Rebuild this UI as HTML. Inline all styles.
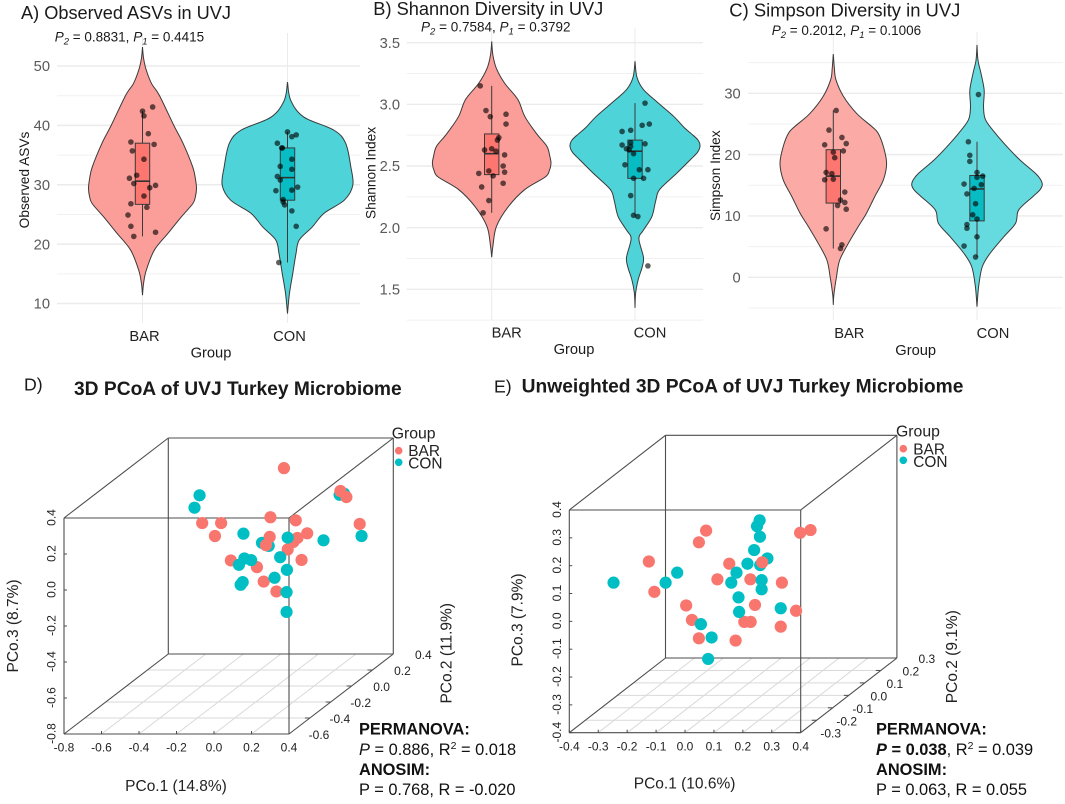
<!DOCTYPE html>
<html lang="en">
<head>
<meta charset="utf-8">
<title>UVJ Turkey Microbiome Diversity</title>
<style>
html,body{margin:0;padding:0;background:#fff;width:1065px;height:804px;overflow:hidden}
svg{display:block;font-family:"Liberation Sans",Arial,sans-serif}
</style>
</head>
<body>
<svg id="fig" width="1065" height="804" viewBox="0 0 1065 804" xmlns="http://www.w3.org/2000/svg">
  <g id="layer"></g>

  <text x="21" y="19" font-size="18.8" fill="#1a1a1a" textLength="210" lengthAdjust="spacingAndGlyphs">A) Observed ASVs in UVJ</text>
  <text x="54.7" y="41.7" font-size="13.5" fill="#1a1a1a"><tspan font-style="italic">P</tspan><tspan font-style="italic" font-size="9.5" dy="3">2</tspan><tspan dy="-3"> = 0.8831, </tspan><tspan font-style="italic">P</tspan><tspan font-style="italic" font-size="9.5" dy="3">1</tspan><tspan dy="-3"> = 0.4415</tspan></text>
  <text transform="translate(29,180) rotate(-90)" text-anchor="middle" font-size="13.7" fill="#1a1a1a">Observed ASVs</text>
  <text x="211" y="357.7" text-anchor="middle" font-size="14.7" fill="#1a1a1a">Group</text>

  <text x="373.3" y="15" font-size="18.8" fill="#1a1a1a" textLength="230" lengthAdjust="spacingAndGlyphs">B) Shannon Diversity in UVJ</text>
  <text x="421" y="31.7" font-size="13.5" fill="#1a1a1a"><tspan font-style="italic">P</tspan><tspan font-style="italic" font-size="9.5" dy="3">2</tspan><tspan dy="-3"> = 0.7584, </tspan><tspan font-style="italic">P</tspan><tspan font-style="italic" font-size="9.5" dy="3">1</tspan><tspan dy="-3"> = 0.3792</tspan></text>
  <text transform="translate(375.7,173) rotate(-90)" text-anchor="middle" font-size="13.7" fill="#1a1a1a">Shannon Index</text>
  <text x="574" y="354" text-anchor="middle" font-size="14.7" fill="#1a1a1a">Group</text>

  <text x="729.3" y="16.7" font-size="18.8" fill="#1a1a1a" textLength="231" lengthAdjust="spacingAndGlyphs">C) Simpson Diversity in UVJ</text>
  <text x="771.7" y="35" font-size="13.5" fill="#1a1a1a"><tspan font-style="italic">P</tspan><tspan font-style="italic" font-size="9.5" dy="3">2</tspan><tspan dy="-3"> = 0.2012, </tspan><tspan font-style="italic">P</tspan><tspan font-style="italic" font-size="9.5" dy="3">1</tspan><tspan dy="-3"> = 0.1006</tspan></text>
  <text transform="translate(720,175.7) rotate(-90)" text-anchor="middle" font-size="13.7" fill="#1a1a1a">Simpson Index</text>
  <text x="915.7" y="355" text-anchor="middle" font-size="14.7" fill="#1a1a1a">Group</text>

  <text x="24" y="390.7" font-size="17.7" fill="#1a1a1a">D)</text>
  <text x="74" y="395" font-size="19" font-weight="bold" fill="#1a1a1a" textLength="327.7" lengthAdjust="spacingAndGlyphs">3D PCoA of UVJ Turkey Microbiome</text>
  <text x="176" y="791" text-anchor="middle" font-size="15.5" fill="#222">PCo.1 (14.8%)</text>
  <text transform="translate(18,626) rotate(-90)" text-anchor="middle" font-size="15.5" fill="#222">PCo.3 (8.7%)</text>
  <text transform="translate(451.7,653.3) rotate(-90)" text-anchor="middle" font-size="15.5" fill="#222">PCo.2 (11.9%)</text>
  <text x="391.7" y="438.3" font-size="15.8" fill="#222">Group</text>
  <circle cx="398.7" cy="450.7" r="3.8" fill="#F8766D"/>
  <circle cx="398.7" cy="462.3" r="3.8" fill="#00BFC4"/>
  <text x="408.3" y="456" font-size="15.4" fill="#222">BAR</text>
  <text x="408.3" y="468.7" font-size="15.4" fill="#222">CON</text>
  <g font-size="16.4" fill="#111">
    <text x="359" y="734.5" font-weight="bold">PERMANOVA:</text>
    <text x="359" y="755"><tspan font-style="italic">P</tspan> = 0.886, R<tspan font-size="10.5" dy="-6">2</tspan><tspan dy="6"> = 0.018</tspan></text>
    <text x="359" y="775" font-weight="bold">ANOSIM:</text>
    <text x="359" y="795">P = 0.768, R = -0.020</text>
  </g>

  <text x="494" y="392.7" font-size="17.7" fill="#1a1a1a">E)</text>
  <text x="521.7" y="392.7" font-size="19" font-weight="bold" fill="#1a1a1a" textLength="441.7" lengthAdjust="spacingAndGlyphs">Unweighted 3D PCoA of UVJ Turkey Microbiome</text>
  <text x="684.6" y="788.3" text-anchor="middle" font-size="15.5" fill="#222">PCo.1 (10.6%)</text>
  <text transform="translate(522.3,620) rotate(-90)" text-anchor="middle" font-size="15.5" fill="#222">PCo.3 (7.9%)</text>
  <text transform="translate(956.8,656.7) rotate(-90)" text-anchor="middle" font-size="15.5" fill="#222">PCo.2 (9.1%)</text>
  <text x="896" y="436.7" font-size="15.8" fill="#222">Group</text>
  <circle cx="903.3" cy="448.7" r="3.8" fill="#F8766D"/>
  <circle cx="903.3" cy="460.3" r="3.8" fill="#00BFC4"/>
  <text x="913.3" y="454.7" font-size="15.4" fill="#222">BAR</text>
  <text x="913.3" y="467" font-size="15.4" fill="#222">CON</text>
  <g font-size="16.4" fill="#111">
    <text x="876" y="734.5" font-weight="bold">PERMANOVA:</text>
    <text x="876" y="755"><tspan font-style="italic" font-weight="bold">P</tspan><tspan font-weight="bold"> = 0.038</tspan>, R<tspan font-size="10.5" dy="-6">2</tspan><tspan dy="6"> = 0.039</tspan></text>
    <text x="876" y="775" font-weight="bold">ANOSIM:</text>
    <text x="876" y="795">P = 0.063, R = 0.055</text>
  </g>
</svg>

<script>
// ---------- shared categories ----------
const groups = ['BAR', 'CON'];

// ---------- Panel A: Observed ASVs ----------
const aTicks = [10, 20, 30, 40, 50];
const aMinorTicks = [15, 25, 35, 45];
const aBarViolinValues = [53.2, 51.3, 49.3, 47, 45.1, 40, 37, 33, 31, 29.4, 28, 26.8, 24.6, 21.8, 19, 15.6, 13.4, 11.4];
const aBarViolinDensity = [0, .02, .07, .17, .31, .58, .75, .93, .98, 1, .98, .93, .72, .47, .22, .07, .02, 0];
const aConViolinValues = [47.3, 44.2, 41.4, 39.2, 37, 33, 29.9, 27.4, 25.2, 22.9, 20.7, 18.4, 15, 11.7, 8.3];
const aConViolinDensity = [0, .05, .25, .71, .89, .97, 1, .87, .56, .38, .18, .13, .08, .03, 0];
const aBarBox = [21.3, 26.7, 30.6, 37, 42.4];
const aConBox = [16.9, 27.4, 31.2, 36.2, 38.9];
const aBarPoints = [43.1, 42.4, 41.6, 38.6, 37.2, 36.8, 35.7, 34.3, 31.6, 31.1, 30.2, 29.9, 29.5, 28.1, 26.8, 26.2, 24.9, 23, 22, 21.3];
const aBarJitter = [.07, 0, .01, .04, -.08, .08, -.07, .01, -.04, -.09, -.06, .09, .05, .01, -.08, .03, -.1, -.08, .09, -.06];
const aConPoints = [38.9, 38.4, 38.1, 37, 36.2, 36.2, 34.3, 33.1, 32.6, 31.4, 30.8, 29.6, 29.1, 29, 27.5, 27.1, 26.6, 25.6, 23, 16.9];
const aConJitter = [0, .06, .03, -.07, -.04, -.035, .03, -.05, .03, -.07, -.05, .07, .03, -.08, -.03, -.03, -.02, .03, .06, -.06];

// ---------- Panel B: Shannon ----------
const bTicks = [1.5, 2, 2.5, 3, 3.5];
const bMinorTicks = [1.25, 1.75, 2.25, 2.75, 3.25];
const bBarViolinValues = [3.51, 3.4, 3.29, 3.17, 3.04, 2.9, 2.76, 2.66, 2.58, 2.52, 2.46, 2.41, 2.31, 2.17, 2.01, 1.85, 1.76];
const bBarViolinDensity = [0, .02, .08, .22, .44, .56, .76, .93, .98, 1, .97, .9, .56, .28, .08, .02, 0];
const bConViolinValues = [3.35, 3.22, 3.12, 3.01, 2.9, 2.81, 2.76, 2.71, 2.66, 2.61, 2.55, 2.44, 2.31, 2.22, 2.09, 1.98, 1.91, 1.76, 1.68, 1.58, 1.47, 1.35];
const bConViolinDensity = [0, .03, .13, .36, .6, .76, .87, .97, 1, .96, .85, .64, .38, .32, .26, .13, .06, .13, .11, .05, .01, 0];
const bBarBox = [2.12, 2.43, 2.6, 2.76, 3.15];
const bConBox = [2.1, 2.4, 2.62, 2.71, 3.01];
const bBarPoints = [3.15, 2.95, 2.9, 2.92, 2.84, 2.73, 2.71, 2.64, 2.63, 2.62, 2.59, 2.5, 2.45, 2.46, 2.44, 2.42, 2.36, 2.33, 2.22, 2.12];
const bBarJitter = [-.08, -.04, -.01, .1, .1, .05, .04, 0, -.05, .03, .09, .08, .09, -.02, -.09, .01, .08, -.07, -.02, -.06];
const bConPoints = [3.01, 2.84, 2.83, 2.79, 2.78, 2.69, 2.67, 2.68, 2.66, 2.64, 2.63, 2.6, 2.51, 2.47, 2.47, 2.4, 2.4, 2.26, 2.1, 2.09, 1.69];
const bConJitter = [.07, .1, .05, -.03, -.09, -.03, -.09, .07, -.03, -.06, -.04, -.01, -.07, .03, .09, -.01, .06, -.03, -.01, .02, .09];

// ---------- Panel C: Simpson ----------
const cTicks = [0, 10, 20, 30];
const cMinorTicks = [-5, 5, 15, 25, 35];
const cBarViolinValues = [36.4, 34.1, 32.2, 29.5, 26.7, 24.6, 23.5, 21.3, 18.6, 15.9, 13.2, 10.4, 8.3, 5.5, 2.8, .1, -2.9, -4.5];
const cBarViolinDensity = [0, .02, .05, .19, .44, .72, .84, .94, 1, .94, .78, .62, .47, .28, .12, .06, .01, 0];
const cConViolinValues = [37.9, 35.4, 33.3, 30.5, 27.8, 25.7, 23.5, 21.3, 19.1, 17, 16, 15.1, 14.2, 13.2, 11, 8.8, 6.6, 3.9, 1.7, -1.5, -4.8];
const cConViolinDensity = [0, .015, .06, .11, .1, .13, .28, .46, .66, .89, .97, 1, .96, .86, .64, .59, .41, .2, .08, .025, 0];
const cBarBox = [4.7, 12.1, 16.5, 20.8, 27.2];
const cConBox = [3.3, 9.2, 14.4, 16.6, 22.1];
const cBarPoints = [27.2, 24, 22.8, 21.8, 21.6, 20.6, 20.4, 19.5, 17.1, 16.9, 15.9, 16, 13.9, 12.6, 12.2, 11.7, 11.1, 7.9, 5.3, 4.7];
const cBarJitter = [.02, -.03, .06, .09, -.06, .07, 0, .01, -.05, -.01, -.06, 0, .08, .05, .08, .03, .09, -.05, .06, .05];
const cConPoints = [29.8, 22.1, 19.9, 18.9, 17.1, 16.5, 16.3, 15.1, 15.2, 14.5, 13.6, 12, 10.2, 9.5, 8.6, 8, 6.6, 5.1, 3.3];
const cConJitter = [.01, -.06, -.05, -.05, 0, .04, 0, .03, -.09, -.02, -.07, -.01, -.03, 0, -.07, -.07, 0, -.09, -.01];

// ---------- Panel D: PCoA (values as read against the front face of the box) ----------
const dXTicks = [-.8, -.6, -.4, -.2, 0, .2, .4];
const dZTicks = [-.8, -.6, -.4, -.2, 0, .2, .4];
const dYTicks = [-.6, -.4, -.2, 0, .2, .4];
const dGroup = [1, 1, 1, 1, 0, 0, 0, 0, 0, 0, 0, 0, 0, 0, 0, 0, 0, 0, 0, 0, 0, 0, 0, 0, 1, 1, 1, 1, 1, 1, 1, 1, 1, 1, 1, 1, 1, 1, 1, 1];
const dPco1 = [.256, .292, .67, .694, .373, .674, .706, .777, .301, .436, -.063, .038, .005, .497, .445, .297, .423, .277, .393, .467, .09, .229, .265, .333, -.077, -.104, .787, .157, .393, .584, .353, .162, .198, .133, .389, .323, .153, .142, .387, .387];
const dPco3 = [.262, .245, .529, .535, .677, .55, .516, .367, .404, .387, .372, .372, .3, .315, .289, .295, .267, .249, .225, .167, .164, .127, .047, -.008, .526, .457, .3, .313, .291, .276, .182, .175, .166, .14, .112, .068, .044, .029, -.012, -.122];

// ---------- Panel E: Unweighted PCoA (values as read against the front face of the box) ----------
const eXTicks = [-.4, -.3, -.2, -.1, 0, .1, .2, .3, .4];
const eZTicks = [-.4, -.3, -.2, -.1, 0, .1, .2, .3, .4];
const eYTicks = [-.3, -.2, -.1, 0, .1, .2, .3];
const eGroup = [0, 0, 0, 0, 0, 0, 0, 0, 0, 0, 0, 0, 0, 0, 0, 0, 0, 0, 0, 1, 1, 1, 1, 1, 1, 1, 1, 1, 1, 1, 1, 1, 1, 1, 1, 1, 1, 1, 1, 0];
const ePco1 = [.073, .048, -.125, -.106, .434, .398, .153, .112, .226, .335, .004, .242, .384, .024, .205, .227, .331, .048, .175, .258, .249, .259, .239, .285, .216, .26, .178, .16, .265, .265, .185, .187, .331, -.027, -.067, -.247, .055, .092, .08, .267];
const ePco3 = [.326, .284, .215, .106, .328, .318, .207, .151, .151, .139, .057, .059, .038, .005, -.002, -.002, -.019, -.061, -.069, .363, .342, .304, .256, .226, .207, .202, .175, .139, .148, .115, .086, .034, .047, .175, .139, .139, -.01, -.058, -.135, .212];

// ---------- drawing helpers ----------
const SVGNS = 'http://www.w3.org/2000/svg';
const layer = document.getElementById('layer');

function mk(parent, tag, attrs, name, text) {
  const el = document.createElementNS(SVGNS, tag);
  for (const k in attrs) el.setAttribute(k, attrs[k]);
  
  
  if (text !== undefined) el.textContent = text;
  parent.appendChild(el);
  return el;
}

function linear(d0, d1, r0, r1) {
  return function (v) { return r0 + (v - d0) * (r1 - r0) / (d1 - d0); };
}

function smooth(pts) {
  let s = '';
  for (let i = 0; i < pts.length - 1; i++) {
    const p0 = pts[Math.max(i - 1, 0)], p1 = pts[i], p2 = pts[i + 1], p3 = pts[Math.min(i + 2, pts.length - 1)];
    const c1x = p1[0] + (p2[0] - p0[0]) / 6, c1y = p1[1] + (p2[1] - p0[1]) / 6;
    const c2x = p2[0] - (p3[0] - p1[0]) / 6, c2y = p2[1] - (p3[1] - p1[1]) / 6;
    s += 'C' + c1x.toFixed(2) + ' ' + c1y.toFixed(2) + ' ' + c2x.toFixed(2) + ' ' + c2y.toFixed(2) + ' ' + p2[0].toFixed(2) + ' ' + p2[1].toFixed(2);
  }
  return s;
}

function drawViolinPanel(p) {
  const g = mk(layer, 'g', {}, p.id + '-violin-panel');
  const y = linear(p.tickA, p.tickB, p.yA, p.yB);
  const x = function (pos) { return p.x0 + pos * p.step; };

  p.minor.forEach(function (t) {
    mk(g, 'line', { x1: p.left, x2: p.right, y1: y(t), y2: y(t), stroke: '#f0f0f0', 'stroke-width': 1 }, p.id + '-minor-gridline');
  });
  p.ticks.forEach(function (t) {
    mk(g, 'line', { x1: p.left, x2: p.right, y1: y(t), y2: y(t), stroke: '#ebebeb', 'stroke-width': 1.4 }, p.id + '-major-gridline');
    mk(g, 'text', { x: p.tickRight, y: y(t) + 5.2, 'text-anchor': 'end', 'font-size': 14.7, fill: '#5a5a5a' }, p.id + '-y-tick-label', String(t.toFixed(p.decimals)));
  });
  groups.forEach(function (name, i) {
    mk(g, 'line', { x1: x(i), x2: x(i), y1: p.top, y2: p.bottom, stroke: '#ebebeb', 'stroke-width': 1 }, p.id + '-vertical-gridline');
    mk(g, 'text', { x: x(i) + p.labelDx, y: p.labelY, 'text-anchor': 'middle', 'font-size': 14.7, fill: '#222' }, p.id + '-x-tick-label-' + name.toLowerCase(), name);
  });

  p.series.forEach(function (s, i) {
    const cx = x(i);
    const right = s.values.map(function (v, k) { return [cx + s.density[k] * s.peak, y(v)]; });
    const left = s.values.map(function (v, k) { return [cx - s.density[k] * s.peak, y(v)]; }).reverse();
    const d = 'M' + right[0][0] + ' ' + right[0][1] + smooth(right) + smooth(left) + 'Z';
    mk(g, 'path', { d: d, fill: s.fill, stroke: '#3a3a3a', 'stroke-width': 1 }, p.id + '-violin-' + groups[i].toLowerCase());

    const b = s.box, hw = p.boxHalf;
    mk(g, 'line', { x1: cx, x2: cx, y1: y(b[0]), y2: y(b[4]), stroke: '#3a3a3a', 'stroke-width': 1 }, p.id + '-whisker-' + groups[i].toLowerCase());
    mk(g, 'rect', { x: cx - hw, y: y(b[3]), width: hw * 2, height: y(b[1]) - y(b[3]), fill: s.boxFill, stroke: '#3a3a3a', 'stroke-width': 1 }, p.id + '-box-' + groups[i].toLowerCase());
    mk(g, 'line', { x1: cx - hw, x2: cx + hw, y1: y(b[2]), y2: y(b[2]), stroke: '#333', 'stroke-width': 1.6 }, p.id + '-median-' + groups[i].toLowerCase());

    s.points.forEach(function (v, k) {
      mk(g, 'circle', { cx: x(i + s.jitter[k]), cy: y(v), r: 2.8, fill: '#000', 'fill-opacity': .62 }, p.id + '-point-' + groups[i].toLowerCase());
    });
  });
}

function drawPcoaPanel(p) {
  const g = mk(layer, 'g', {}, p.id + '-pcoa-panel');
  const x = linear(p.xTicks[0], p.xTicks[p.xTicks.length - 1], p.fl, p.fr);
  const z = linear(p.zTicks[0], p.zTicks[p.zTicks.length - 1], p.fb, p.ft);
  const ySteps = p.yTicks.length - 1;
  const dx = p.bl - p.fl, dy = p.bb - p.fb;

  // floor grid
  p.yTicks.forEach(function (t, i) {
    if (i === 0 || i === ySteps) return;
    const f = i / ySteps;
    mk(g, 'line', { x1: p.fl + dx * f, x2: p.fr + dx * f, y1: p.fb + dy * f, y2: p.fb + dy * f, stroke: '#d9d9d9', 'stroke-width': 1 }, p.id + '-floor-depth-gridline');
  });
  p.xTicks.forEach(function (t, i) {
    if (i === 0 || i === p.xTicks.length - 1) return;
    mk(g, 'line', { x1: x(t), x2: x(t) + dx, y1: p.fb, y2: p.bb, stroke: '#d9d9d9', 'stroke-width': 1 }, p.id + '-floor-x-gridline');
  });

  // box frame
  const bt = p.ft + dy;
  const frame = [
    [p.fl, p.ft, p.fr, p.ft], [p.fl, p.fb, p.fr, p.fb], [p.fl, p.ft, p.fl, p.fb], [p.fr, p.ft, p.fr, p.fb],
    [p.fl + dx, bt, p.fr + dx, bt], [p.fl + dx, p.bb, p.fr + dx, p.bb], [p.fl + dx, bt, p.fl + dx, p.bb], [p.fr + dx, bt, p.fr + dx, p.bb],
    [p.fl, p.ft, p.fl + dx, bt], [p.fr, p.ft, p.fr + dx, bt], [p.fl, p.fb, p.fl + dx, p.bb], [p.fr, p.fb, p.fr + dx, p.bb]
  ];
  frame.forEach(function (l) {
    mk(g, 'line', { x1: l[0], y1: l[1], x2: l[2], y2: l[3], stroke: '#4d4d4d', 'stroke-width': 1.1 }, p.id + '-box-frame-edge');
  });

  // ticks and labels
  p.xTicks.forEach(function (t) {
    mk(g, 'line', { x1: x(t), x2: x(t), y1: p.fb - 3, y2: p.fb, stroke: '#4d4d4d', 'stroke-width': 1 }, p.id + '-x-tick');
    mk(g, 'text', { x: x(t), y: p.fb + 17.6, 'text-anchor': 'middle', 'font-size': 12, fill: '#222' }, p.id + '-x-tick-label', t.toFixed(1));
  });
  p.zTicks.forEach(function (t) {
    mk(g, 'line', { x1: p.fl, x2: p.fl + 3, y1: z(t), y2: z(t), stroke: '#4d4d4d', 'stroke-width': 1 }, p.id + '-z-tick');
    mk(g, 'text', { transform: 'translate(' + (p.fl - 8.5) + ',' + (z(t) - 0.5) + ') rotate(-90)', 'text-anchor': 'middle', 'font-size': 12, fill: '#222' }, p.id + '-z-tick-label', t.toFixed(1));
  });
  p.yTicks.forEach(function (t, i) {
    const f = i / ySteps;
    mk(g, 'line', { x1: p.fr + dx * f - 5, x2: p.fr + dx * f, y1: p.fb + dy * f, y2: p.fb + dy * f, stroke: '#4d4d4d', 'stroke-width': 1 }, p.id + '-y-tick');
    mk(g, 'text', { x: p.fr + dx * f + 30, y: p.fb + dy * f + 5, 'text-anchor': 'middle', 'font-size': 12, fill: '#222' }, p.id + '-y-tick-label', t.toFixed(1));
  });

  // points
  p.group.forEach(function (gi, i) {
    mk(g, 'circle', { cx: x(p.pco1[i]), cy: z(p.pco3[i]), r: 6.1, fill: gi === 0 ? '#F8766D' : '#00BFC4' }, p.id + '-sample-' + groups[gi].toLowerCase());
  });
}

drawViolinPanel({
  id: 'panel-a', left: 57, right: 360, top: 33, bottom: 323, x0: 142.5, step: 145, boxHalf: 7.2,
  tickA: 10, tickB: 50, yA: 303.5, yB: 66, ticks: aTicks, minor: aMinorTicks, decimals: 0,
  tickRight: 50, labelY: 341, labelDx: 2,
  series: [
    { values: aBarViolinValues, density: aBarViolinDensity, peak: 54, fill: '#fb9d98', boxFill: '#fd7670', box: aBarBox, points: aBarPoints, jitter: aBarJitter },
    { values: aConViolinValues, density: aConViolinDensity, peak: 65.3, fill: '#4dd3d8', boxFill: '#08bcc4', box: aConBox, points: aConPoints, jitter: aConJitter }
  ]
});
drawViolinPanel({
  id: 'panel-b', left: 406.7, right: 703, top: 28, bottom: 320, x0: 491.7, step: 143.3, boxHalf: 7.2,
  tickA: 1.5, tickB: 3.5, yA: 289.3, yB: 42.7, ticks: bTicks, minor: bMinorTicks, decimals: 1,
  tickRight: 400, labelY: 337.7, labelDx: 15,
  series: [
    { values: bBarViolinValues, density: bBarViolinDensity, peak: 59.3, fill: '#fb9d98', boxFill: '#fd7670', box: bBarBox, points: bBarPoints, jitter: bBarJitter },
    { values: bConViolinValues, density: bConViolinDensity, peak: 65, fill: '#4dd3d8', boxFill: '#08bcc4', box: bConBox, points: bConPoints, jitter: bConJitter }
  ]
});
drawViolinPanel({
  id: 'panel-c', left: 748, right: 1063, top: 32, bottom: 320, x0: 833.3, step: 143.7, boxHalf: 7.2,
  tickA: 0, tickB: 30, yA: 277.3, yB: 93.3, ticks: cTicks, minor: cMinorTicks, decimals: 0,
  tickRight: 740.7, labelY: 338, labelDx: 16,
  series: [
    { values: cBarViolinValues, density: cBarViolinDensity, peak: 53.3, fill: '#fcaaa5', boxFill: '#fd7670', box: cBarBox, points: cBarPoints, jitter: cBarJitter },
    { values: cConViolinValues, density: cConViolinDensity, peak: 65.3, fill: '#65dbdf', boxFill: '#08bcc4', box: cConBox, points: cConPoints, jitter: cConJitter }
  ]
});

drawPcoaPanel({
  id: 'panel-d', fl: 64, fr: 289, ft: 518, fb: 734, bl: 168.3, bb: 654,
  xTicks: dXTicks, zTicks: dZTicks, yTicks: dYTicks, group: dGroup, pco1: dPco1, pco3: dPco3
});
drawPcoaPanel({
  id: 'panel-e', fl: 569.3, fr: 800.7, ft: 510, fb: 732.7, bl: 665.5, bb: 658,
  xTicks: eXTicks, zTicks: eZTicks, yTicks: eYTicks, group: eGroup, pco1: ePco1, pco3: ePco3
});
</script>
</body>
</html>
